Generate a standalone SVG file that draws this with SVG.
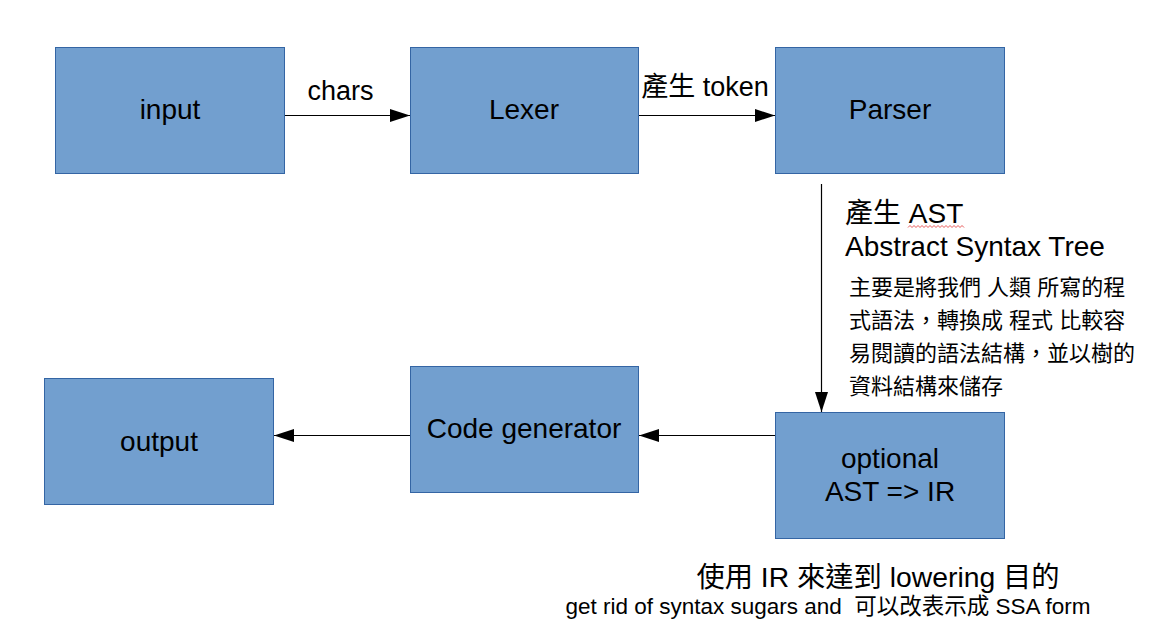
<svg xmlns="http://www.w3.org/2000/svg" width="1152" height="629" viewBox="0 0 1152 629">
<style>
.box{fill:#729fcf;stroke:#3465a4;stroke-width:1}
.t{font-family:"Liberation Sans","Noto Sans CJK TC",sans-serif;fill:#000}
.lbl{font-size:28px;text-anchor:middle}
.edge{stroke:#000;stroke-width:1.2;fill:none}
</style>
<defs>
<marker id="ah" markerWidth="20" markerHeight="14" refX="20" refY="7" orient="auto" markerUnits="userSpaceOnUse">
<path d="M0,0.5 L20,7 L0,13.5 Z" fill="#000"/>
</marker>
</defs>
<rect width="1152" height="629" fill="#fff"/>
<g id="connectors">
<line class="edge" x1="285" y1="115.5" x2="410" y2="115.5" marker-end="url(#ah)"/>
<line class="edge" x1="638" y1="115.5" x2="775" y2="115.5" marker-end="url(#ah)"/>
<line class="edge" x1="821.5" y1="184" x2="821.5" y2="412" marker-end="url(#ah)"/>
<line class="edge" x1="775" y1="435.5" x2="639" y2="435.5" marker-end="url(#ah)"/>
<line class="edge" x1="410" y1="435.5" x2="274" y2="435.5" marker-end="url(#ah)"/>
<text class="t" x="340.5" y="100" font-size="27" text-anchor="middle">chars</text>
<text class="t" x="705" y="96" font-size="27" text-anchor="middle">產生 token</text>
<text class="t" x="845" y="223" font-size="28">產生 AST</text>
<path d="M908,227.5 l2,-2 l2,2 l2,-2 l2,2 l2,-2 l2,2 l2,-2 l2,2 l2,-2 l2,2 l2,-2 l2,2 l2,-2 l2,2 l2,-2 l2,2 l2,-2 l2,2 l2,-2 l2,2 l2,-2 l2,2 l2,-2 l2,2 l2,-2 l2,2 l2,-2 l2,2" fill="none" stroke="#e03030" stroke-width="0.8"/>
<text class="t" x="845" y="256" font-size="28">Abstract Syntax Tree</text>
<g class="t" font-size="22">
<text x="849" y="295">主要是將我們 人類 所寫的程</text>
<text x="849" y="328">式語法，轉換成 程式 比較容</text>
<text x="849" y="361">易閱讀的語法結構，並以樹的</text>
<text x="849" y="394">資料結構來儲存</text>
</g>
<text class="t" x="878" y="587" font-size="28.3" text-anchor="middle">使用 IR 來達到 lowering 目的</text>
<text class="t" x="828" y="614" font-size="22.5" text-anchor="middle" xml:space="preserve">get rid of syntax sugars and  可以改表示成 SSA form</text>
</g>
<g id="input">
<rect class="box" x="55.5" y="47.5" width="229" height="126"/>
<text class="t lbl" x="170" y="119">input</text>
</g>
<g id="lexer">
<rect class="box" x="410.5" y="47.5" width="228" height="126"/>
<text class="t lbl" x="524" y="119">Lexer</text>
</g>
<g id="parser">
<rect class="box" x="775.5" y="47.5" width="229" height="126"/>
<text class="t lbl" x="890" y="119">Parser</text>
</g>
<g id="optional">
<rect class="box" x="775.5" y="412.5" width="229" height="126"/>
<text class="t lbl" x="890" y="468">optional</text>
<text class="t lbl" x="890" y="501">AST =&gt; IR</text>
</g>
<g id="codegen">
<rect class="box" x="410.5" y="366.5" width="228" height="126"/>
<text class="t lbl" x="524" y="438">Code generator</text>
</g>
<g id="output">
<rect class="box" x="44.5" y="378.5" width="229" height="126"/>
<text class="t lbl" x="159" y="451">output</text>
</g>
</svg>
